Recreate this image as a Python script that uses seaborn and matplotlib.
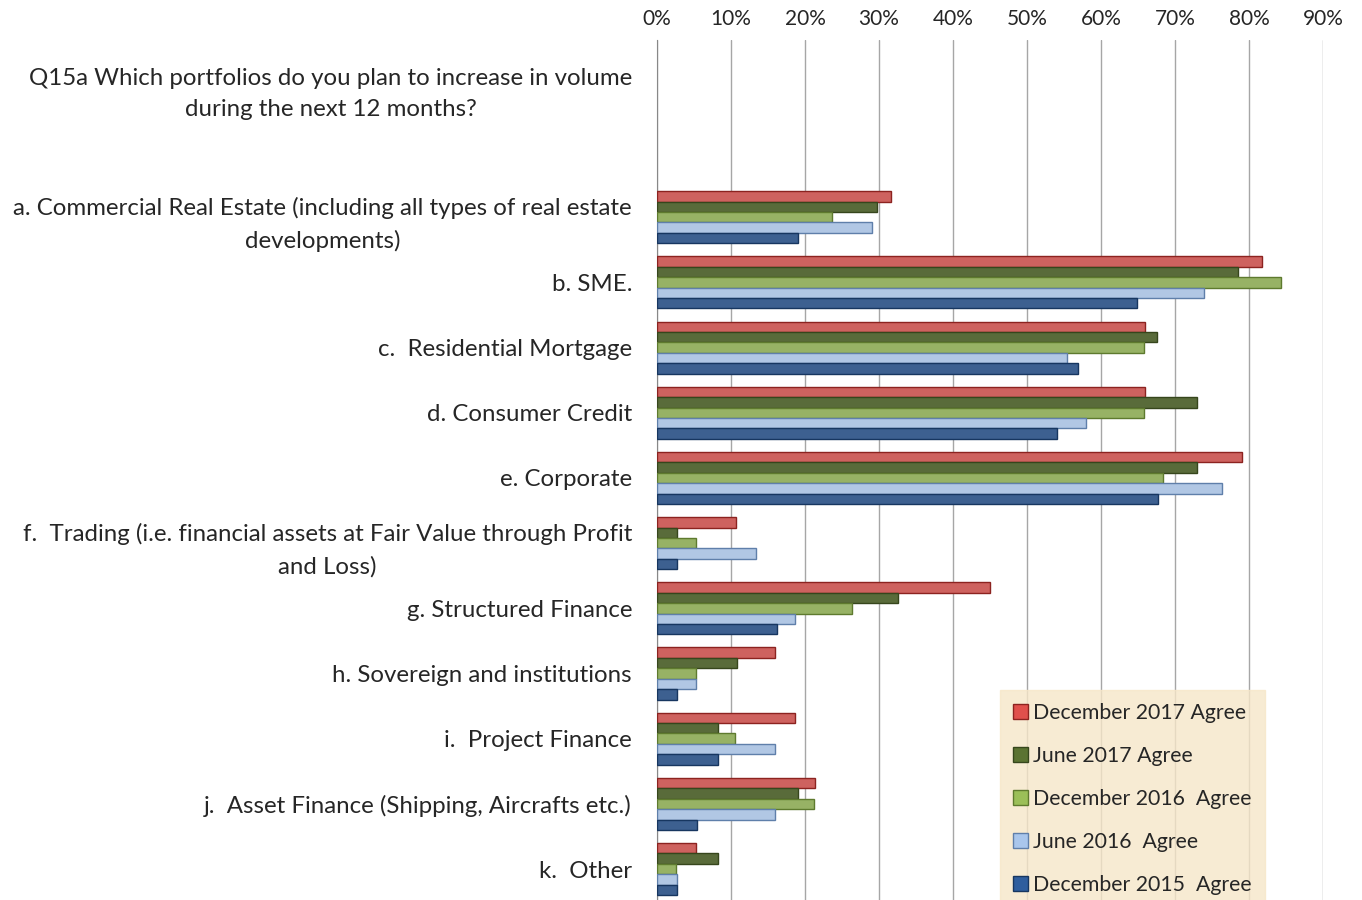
import numpy as np
import pandas as pd
import matplotlib
matplotlib.use("Agg")
import matplotlib.pyplot as plt
import seaborn as sns
from matplotlib.patches import Patch

# Categories (first two rows hold the question text and an empty slot)
categories = [
    "Q15a Which portfolios do you plan to increase in volume\nduring the next 12 months?",
    " ",
    "a. Commercial Real Estate (including all types of real estate\ndevelopments)",
    "b. SME.",
    "c.  Residential Mortgage",
    "d. Consumer Credit",
    "e. Corporate",
    "f.  Trading (i.e. financial assets at Fair Value through Profit\nand Loss)",
    "g. Structured Finance",
    "h. Sovereign and institutions",
    "i.  Project Finance",
    "j.  Asset Finance (Shipping, Aircrafts etc.)",
    "k.  Other",
]
series = ["December 2017 Agree", "June 2017 Agree", "December 2016  Agree",
          "June 2016  Agree", "December 2015  Agree"]

# values in %, rows a..k
dec2017 = [31.6, 81.7, 65.9, 65.9, 79.1, 10.7, 45.0, 15.9, 18.6, 21.3, 5.3]
jun2017 = [29.7, 78.5, 67.6, 73.0, 73.0, 2.7, 32.6, 10.8, 8.2, 19.0, 8.2]
dec2016 = [23.7, 84.3, 65.8, 65.8, 68.4, 5.2, 26.4, 5.2, 10.5, 21.2, 2.6]
jun2016 = [29.0, 73.9, 55.4, 58.0, 76.4, 13.4, 18.6, 5.3, 16.0, 16.0, 2.7]
dec2015 = [19.0, 64.9, 56.9, 54.1, 67.7, 2.7, 16.2, 2.7, 8.2, 5.4, 2.7]

colors = ["#E0504C", "#5B7332", "#9BBF58", "#A9C6EC", "#2F5E9E"]
edges = ["#8C2320", "#36461C", "#5E7A2E", "#5F7FAA", "#173660"]

rows = []
for name, vals in zip(series, [dec2017, jun2017, dec2016, jun2016, dec2015]):
    for cat, v in zip(categories[2:], vals):
        rows.append({"cat": cat, "series": name, "value": v})
df = pd.DataFrame(rows)

sns.set_style("white")
plt.rcParams["font.family"] = ["Lato", "DejaVu Sans"]

fig = plt.figure(figsize=(13.62, 9), dpi=100)
ax = fig.add_axes([0.4824, 0.0, 0.489, 0.9556])

sns.barplot(data=df, y="cat", x="value", hue="series", order=categories,
            hue_order=series, palette=colors, orient="h", width=0.8,
            ax=ax, legend=False, zorder=3)
for cont, ec in zip(ax.containers, edges):
    for bar in cont:
        bar.set_edgecolor(ec)
        bar.set_linewidth(1.0)

ax.set_xlim(0, 90)
ax.set_ylim(12.475, -0.72)
ax.xaxis.tick_top()
ax.set_xticks(np.arange(0, 91, 10))
ax.set_xticklabels([f"{v}%" for v in range(0, 91, 10)], fontsize=15)
ax.set_yticks(range(len(categories)))
ax.set_yticklabels(categories, fontsize=17.3, multialignment="center", linespacing=1.6)
ax.tick_params(axis="y", length=0, pad=18)
ax.tick_params(axis="x", length=0, pad=8)
ax.set_xlabel("")
ax.set_ylabel("")
ax.grid(axis="x", color="#A6A6A6", linewidth=1, zorder=0)
ax.set_axisbelow(True)
for s in ["top", "right", "bottom"]:
    ax.spines[s].set_visible(False)
ax.spines["left"].set_color("#888888")

handles = [Patch(facecolor=c, edgecolor=e) for c, e in zip(colors, edges)]
leg = ax.legend(handles, series, loc="lower left", bbox_to_anchor=(0.4995, -0.021),
                fontsize=15.3, frameon=True, fancybox=False, handlelength=0.7,
                handleheight=0.7, handletextpad=0.25, labelspacing=1.08,
                borderpad=0.6)
leg.get_frame().set_facecolor("#F6E6C8")
leg.get_frame().set_edgecolor("#F6E6C8")
leg.set_zorder(5)

fig.savefig("out.png", dpi=100)
